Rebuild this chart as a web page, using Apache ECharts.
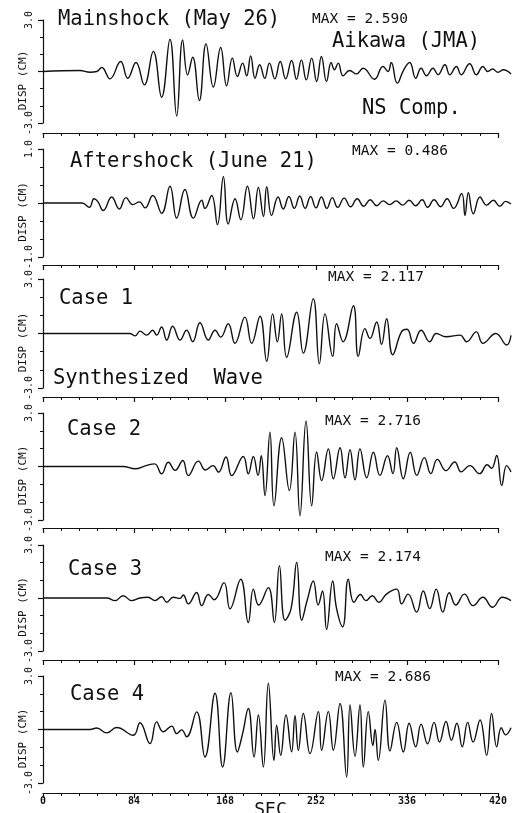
<!DOCTYPE html>
<html><head><meta charset="utf-8">
<script src="https://cdn.jsdelivr.net/npm/echarts@6/dist/echarts.min.js"></script>
<style>html,body{margin:0;padding:0;background:#fff}#c{width:513px;height:813px}</style>
</head><body><div id="c"></div>
<script>
// ---- data (time in SEC, displacement in CM) ----
const xTicks = [0, 84, 168, 252, 336, 420];
const panelTitles = ['Mainshock (May 26)', 'Aftershock (June 21)', 'Case 1', 'Case 2', 'Case 3', 'Case 4'];
const maxLabels = ['MAX = 2.590', 'MAX = 0.486', 'MAX = 2.117', 'MAX = 2.716', 'MAX = 2.174', 'MAX = 2.686'];
const yLimits = [3, 1, 3, 3, 3, 3];

const mainshock = [[0,0],[34,0.06],[43.4,-0.04],[49.5,0],[54.2,0.23],[61.8,-0.43],[71.7,0.58],[78.2,-0.39],[85.8,0.52],[93.5,-0.78],[101.8,1.17],[109.5,-1.5],[117.2,1.88],[123.4,-2.59],[128.9,1.84],[133.5,-0.2],[138.2,0.83],[144.3,-1.69],[150.5,1.61],[157.2,-0.91],[164,1.4],[169.5,-0.83],[174.8,0.78],[179.4,-0.29],[184.3,0.49],[188,-0.25],[191.7,0.91],[195.7,-0.39],[200,0.39],[204.7,-0.39],[209,0.49],[214,-0.43],[219,0.58],[224,-0.43],[229.5,0.64],[234,-0.45],[238.5,0.68],[243,-0.49],[248,0.78],[252.6,-0.58],[257,0.87],[261.7,-0.58],[266,0.52],[269,0.1],[272.5,0.49],[277,-0.25],[283,0.06],[289.5,-0.14],[295.5,0.19],[306,-0.45],[313.8,0.29],[318.5,0],[321.5,0.52],[327,-0.68],[333,0.1],[338.5,0.52],[344,-0.39],[349,0.19],[354,-0.25],[360,0.19],[364.6,-0.19],[371,0.39],[375.5,-0.19],[381.6,0.29],[386,-0.19],[393.8,0.45],[400,-0.19],[406,0.29],[410.6,0],[415,0.15],[420,-0.05],[425,0.1],[432,-0.15]];

const aftershock = [[0,0],[36,0],[42.8,-0.08],[47,0.08],[50.5,0.03],[55.7,-0.14],[63.4,0.11],[70.4,-0.11],[76.6,0.1],[82.8,-0.03],[89,0.02],[94.2,-0.09],[101.3,0.14],[109.6,-0.19],[117.2,0.31],[123.4,-0.28],[131,0.25],[138.8,-0.28],[146.5,0.05],[149.5,-0.1],[155.7,0.14],[161,-0.4],[166.5,0.486],[171,-0.39],[177.3,0.08],[182.6,-0.31],[188.7,0.31],[194.3,-0.29],[198.8,0.29],[203.5,-0.25],[206.5,0.3],[211,-0.23],[217,0.11],[221.8,-0.11],[227,0.12],[232,-0.1],[237,0.13],[242,-0.1],[247,0.12],[252,-0.09],[257,0.11],[262,-0.1],[267,0.1],[272,-0.08],[278,0.09],[284,-0.07],[290,0.08],[296,-0.06],[302,0.06],[308,-0.05],[314,0.04],[320,-0.03],[326,0.04],[332,-0.04],[338,0.05],[344,-0.05],[350,0.06],[355,-0.08],[361,0.06],[367,-0.07],[373,0.08],[379,-0.1],[386.5,0.175],[389.5,-0.23],[392.6,0.19],[397.2,-0.2],[403.4,0.11],[409.5,-0.04],[415.7,0.05],[421.8,-0.06],[427,0.03],[432,-0.02]];

const case1 = [[0,0],[80,0],[85,-0.13],[89.5,0.13],[95.7,-0.09],[101.2,0.18],[104.9,-0.09],[109.5,0.36],[114.2,-0.36],[119.7,0.4],[126.5,-0.36],[132.6,0.18],[138.2,-0.45],[144.9,0.59],[152.6,-0.36],[158.8,0.18],[164,-0.2],[171,0.54],[177.2,-0.54],[186.4,0.9],[192.6,-0.54],[200.3,0.95],[206.5,-1.53],[212,1.08],[216.3,-0.45],[220.3,1.08],[224.9,-1.31],[234.2,1.17],[240.3,-1.08],[249.5,1.92],[255.1,-1.67],[260.3,1.08],[267.4,-1.26],[271,0.54],[277,-0.45],[286.5,1.53],[291,-1.26],[297.2,0.27],[301.8,-0.27],[308,0.63],[312.5,-0.6],[317.2,0.81],[322.8,-1.17],[331,0.1],[336,0.23],[342,-0.54],[349,0.18],[357,-0.45],[363,0],[372,-0.18],[385,-0.09],[391,-0.45],[400,0.09],[406,-0.54],[418,0],[428,-0.63],[432,-0.1]];

const case2 = [[0,0],[74,0],[85,-0.13],[95,0.05],[103,0.15],[109.5,-0.41],[115.7,0.24],[122,-0.22],[129,0.34],[134.2,-0.51],[143.4,0.3],[150,-0.2],[157,0.05],[162,-0.32],[168.9,0.53],[174.2,-0.51],[184.9,0.56],[189.5,-0.41],[194.2,0.56],[198.5,-0.5],[201.5,0.6],[204.9,-1.63],[209.5,1.93],[213.2,-2.2],[220.3,1.61],[227.4,-1.35],[232.6,1.93],[237.2,-2.76],[242.8,2.55],[248,-2.2],[252.6,0.81],[257.2,-0.79],[263.4,0.99],[268,-0.69],[274.2,1.05],[278.8,-0.64],[283.4,0.94],[288,-0.75],[292.6,0.99],[298.8,-0.64],[305,0.8],[311,-0.5],[318,0.6],[323,-0.4],[326.5,1.05],[332.6,-0.69],[339,0.8],[345,-0.5],[352,0.5],[358,-0.4],[364,0.4],[372,-0.23],[380,0.25],[386,-0.3],[394,0.05],[403,-0.4],[410,0.1],[414,-0.1],[418.8,0.62],[423.4,-1.07],[428,0.05],[432,-0.3]];

const case3 = [[0,0],[58.8,0],[66.5,-0.15],[74,0.13],[81.8,-0.15],[89.5,0],[97,0.04],[103.4,-0.15],[109.5,0.07],[114.2,-0.24],[120.3,0.04],[126.5,-0.02],[129.5,0.17],[134.2,-0.33],[141.8,0.31],[146.5,-0.43],[152.6,0.2],[158,-0.1],[167.1,0.87],[172.6,-0.61],[182.5,1.06],[189.5,-1.39],[194.2,0.5],[199,-0.4],[208,0.59],[213.5,-1.39],[218.2,1.83],[223.4,-1.26],[229,-0.6],[234.2,2.02],[238.8,-1.26],[244,-0.1],[249.5,0.96],[254,-0.4],[258,0.4],[261.8,-1.78],[267.4,0.96],[271,-0.6],[276.6,-1.63],[281.8,1.06],[287,-0.24],[293,0.2],[298,-0.15],[304,0.13],[310,-0.24],[317,0.22],[326.5,0.5],[331,-0.33],[337,0.22],[344.9,-0.8],[351,0.4],[357,-0.6],[363,0.5],[369,-0.8],[375,0.3],[381,-0.4],[389,0.22],[397,-0.43],[406,0.04],[415,-0.52],[424,0.04],[432,-0.15]];

const case4 = [[0,0],[43.4,0],[49.5,0.08],[58.8,-0.19],[68,0.11],[83.4,-0.32],[89.5,0.38],[98.8,-0.79],[104.9,0.43],[111,-0.13],[118.8,0.19],[123.4,-0.23],[128,-0.02],[132.6,-0.41],[141.8,0.99],[149.5,-1.54],[158.8,2.03],[165.8,-2.1],[173.5,2.06],[179.4,-1.26],[184,-0.3],[189.5,1.18],[194.8,-1.54],[198.8,0.81],[203.4,-2.1],[208,2.59],[213.2,-1.73],[215.7,0.24],[219.4,-1.44],[224.3,0.81],[229.5,-1.25],[232.6,0.77],[235.7,-1.16],[240.3,0.9],[246.5,-1.35],[254.2,1.0],[257.2,-1.16],[263.4,1.0],[268,-1.16],[274.2,1.46],[280.3,-2.66],[283.4,1.37],[288,-1.5],[292.6,1.37],[295.7,-2.1],[300.3,1.0],[304.5,-0.9],[306.5,0.0],[309.5,-1.73],[315.7,1.65],[320.3,-1.2],[326.5,0.4],[332.6,-1.26],[338,0.35],[344,-0.97],[349,0.3],[355,-0.8],[361,0.4],[366,-0.7],[372,0.45],[377,-0.6],[382,0.35],[387,-0.97],[392,0.4],[397,-0.7],[403.4,0.53],[409.5,-1.44],[414.1,0.9],[418.8,-0.97],[423,0.1],[427,-0.3],[432,0.1]];

const series = [mainshock, aftershock, case1, case2, case3, case4];

// ---- layout ----
const tops = [20, 149, 279, 413, 545, 676];
const heights = [103, 108, 109, 107, 106, 107];
const xOffsets = [10, 8, 9, 8, 9, 10];
const font = 'DejaVu Sans Mono';
const axisLeft = 43, axisWidth = 455, traceWidth = 469;
const xMax = xTicks[xTicks.length - 1];
const traceMax = xMax * traceWidth / axisWidth;  // trace runs a little past the 420 s axis end

const grid = [], xAxis = [], yAxis = [], seriesOpt = [];
for (let i = 0; i < 6; i++) {
  const L = yLimits[i];
  const last = i === 5;
  grid.push({ left: axisLeft, width: traceWidth, top: tops[i], height: heights[i], containLabel: false, outerBoundsMode: 'none' });
  grid.push({ left: axisLeft, width: axisWidth, top: tops[i], height: heights[i], containLabel: false, outerBoundsMode: 'none' });

  xAxis.push({ type: 'value', gridIndex: 2 * i, min: 0, max: traceMax, show: false });
  xAxis.push({
    type: 'value', gridIndex: 2 * i + 1, min: xTicks[0], max: xMax, interval: 84,
    offset: xOffsets[i],
    axisLine: { show: true, onZero: false, lineStyle: { color: '#111', width: 1.2 } },
    axisTick: { show: true, length: 5, lineStyle: { color: '#111', width: 1.2 } },
    minorTick: { show: true, splitNumber: 5, length: 3, lineStyle: { color: '#111', width: 1 } },
    splitLine: { show: false }, minorSplitLine: { show: false },
    axisLabel: { show: last, color: '#111', fontFamily: font, fontSize: 10, fontWeight: 'bold', margin: 3 },
    name: last ? 'SEC' : '', nameLocation: 'middle', nameGap: 8, nameMoveOverlap: false,
    nameTextStyle: { color: '#111', fontFamily: font, fontSize: 18 }
  });

  yAxis.push({
    type: 'value', gridIndex: 2 * i, min: -L, max: L, interval: L,
    axisLine: { show: true, onZero: false, lineStyle: { color: '#111', width: 1.2 } },
    axisTick: { show: true, length: 5, lineStyle: { color: '#111', width: 1.2 } },
    minorTick: { show: true, splitNumber: 3, length: 3, lineStyle: { color: '#111', width: 1 } },
    splitLine: { show: false }, minorSplitLine: { show: false },
    axisLabel: {
      rotate: 90, color: '#111', fontFamily: font, fontSize: 10, margin: 9,
      formatter: v => (Math.abs(Math.abs(v) - L) < 1e-9 ? v.toFixed(1) : '')
    },
    name: 'DISP (CM)', nameLocation: 'middle', nameRotate: 90, nameGap: 14, nameMoveOverlap: false,
    nameTextStyle: { color: '#111', fontFamily: font, fontSize: 11, padding: [0, 18, 0, 0] }
  });
  yAxis.push({ type: 'value', gridIndex: 2 * i + 1, min: -L, max: L, show: false });

  seriesOpt.push({
    type: 'line', xAxisIndex: 2 * i, yAxisIndex: 2 * i, data: series[i],
    showSymbol: false, smooth: 0.45, clip: false,
    lineStyle: { color: '#111', width: 1.4 }
  });
}

function txt(left, top, text, size) {
  return { type: 'text', left: left, top: top, style: { text: text, fill: '#111', font: size + 'px "' + font + '"' } };
}
const graphic = [
  txt(58, 9, panelTitles[0], 20.5),
  txt(312, 12, maxLabels[0], 14.5),
  txt(332, 31, 'Aikawa (JMA)', 20.5),
  txt(362, 98, 'NS Comp.', 20.5),
  txt(70, 151, panelTitles[1], 20.5),
  txt(352, 144, maxLabels[1], 14.5),
  txt(59, 288, panelTitles[2], 20.5),
  txt(328, 270, maxLabels[2], 14.5),
  txt(53, 368, 'Synthesized  Wave', 20.5),
  txt(67, 419, panelTitles[3], 20.5),
  txt(325, 414, maxLabels[3], 14.5),
  txt(68, 559, panelTitles[4], 20.5),
  txt(325, 550, maxLabels[4], 14.5),
  txt(70, 684, panelTitles[5], 20.5),
  txt(335, 670, maxLabels[5], 14.5)
];

const chart = echarts.init(document.getElementById('c'), null, { renderer: 'canvas' });
chart.setOption({
  animation: false, backgroundColor: '#fff',
  grid: grid, xAxis: xAxis, yAxis: yAxis, series: seriesOpt, graphic: graphic
});
</script>
</body></html>
